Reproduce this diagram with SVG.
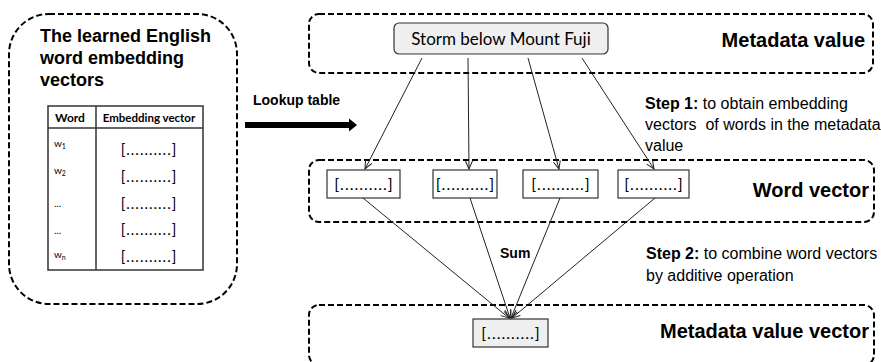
<svg xmlns="http://www.w3.org/2000/svg" width="881" height="362" viewBox="0 0 881 362">
<style>
.dash{fill:none;stroke:#000;stroke-width:2;stroke-dasharray:6 3}
.lbl{font-family:"Liberation Sans",Arial,sans-serif;font-weight:bold;fill:#000}
.txt{font-family:"Liberation Sans",Arial,sans-serif;font-size:16px;fill:#000}
.cal{font-family:Lato,"Noto Sans",sans-serif;fill:#000}
.br{letter-spacing:1px}
.vbox{fill:#fff;stroke:#333;stroke-width:1.2}
.gbox{fill:#efefef;stroke:#333;stroke-width:1.2}
.conn{stroke:#222;stroke-width:1;fill:none}
</style>
<defs>
<marker id="ah" markerUnits="userSpaceOnUse" markerWidth="12" markerHeight="10" refX="9" refY="4" orient="auto">
<path d="M1,0.5 L9,4 L1,7.5" fill="none" stroke="#222" stroke-width="1"/>
</marker>
</defs>
<rect width="881" height="362" fill="#fff"/>

<g id="embedding-vectors">
<rect class="dash" x="9" y="14" width="228" height="290" rx="40" ry="40"/>
<text class="lbl" font-size="18"><tspan x="40" y="42">The learned English</tspan><tspan x="40" y="64">word embedding</tspan><tspan x="40" y="86">vectors</tspan></text>
<g id="table">
<rect x="48" y="106" width="155" height="164" fill="#fff" stroke="#333" stroke-width="1.5"/>
<line x1="48" y1="128" x2="203" y2="128" stroke="#333" stroke-width="1.5"/>
<line x1="96" y1="106" x2="96" y2="270" stroke="#333" stroke-width="1.5"/>
<text class="cal" font-size="12" font-weight="bold" x="55" y="122">Word</text>
<text class="cal" font-size="11.5" font-weight="bold" x="149" y="122" text-anchor="middle">Embedding vector</text>
<g class="cal" font-size="10" fill="#333">
<text x="54" y="147">w<tspan font-size="7" dy="2">1</tspan></text>
<text x="54" y="174">w<tspan font-size="7" dy="2">2</tspan></text>
<text x="54" y="207">...</text>
<text x="54" y="234">...</text>
<text x="54" y="258">w<tspan font-size="7" dy="2">n</tspan></text>
</g>
<g class="cal br" font-size="15" text-anchor="middle" fill="#333">
<text x="149" y="155">[..........]</text>
<text x="149" y="182">[..........]</text>
<text x="149" y="209">[..........]</text>
<text x="149" y="235">[..........]</text>
<text x="149" y="262">[..........]</text>
</g>
</g>
</g>

<g id="lookup-arrow">
<text class="lbl" font-size="14" x="253" y="105">Lookup table</text>
<polygon points="245,122 349,122 349,118.5 357,125 349,131.5 349,128 245,128" fill="#000"/>
</g>

<g id="metadata-value">
<rect class="dash" x="309" y="14" width="564" height="59" rx="10" ry="10"/>
<text class="lbl" font-size="20" x="865" y="47" text-anchor="end">Metadata value</text>
<rect class="gbox" x="394" y="23" width="214" height="31" rx="5" ry="5" stroke-width="1.5" stroke="#000"/>
<text class="cal" font-size="17" x="501" y="45" text-anchor="middle">Storm below Mount Fuji</text>
</g>

<g id="step1">
<text class="txt" xml:space="preserve"><tspan x="645" y="109"><tspan font-weight="bold">Step 1:</tspan> to obtain embedding</tspan><tspan x="645" y="130">vectors  of words in the metadata</tspan><tspan x="645" y="151">value</tspan></text>
</g>

<g id="word-vector">
<rect class="dash" x="309" y="160" width="565" height="62" rx="10" ry="10"/>
<text class="lbl" font-size="20" x="869" y="197" text-anchor="end">Word vector</text>
<g id="wv1"><rect class="vbox" x="327" y="170" width="73" height="28"/><text class="cal br" font-size="16" x="364" y="190" text-anchor="middle">[..........]</text></g>
<g id="wv2"><rect class="vbox" x="433" y="170" width="64" height="28"/><text class="cal br" font-size="16" x="465.5" y="190" text-anchor="middle">[..........]</text></g>
<g id="wv3"><rect class="vbox" x="523" y="170" width="75" height="28"/><text class="cal br" font-size="16" x="561" y="190" text-anchor="middle">[..........]</text></g>
<g id="wv4"><rect class="vbox" x="618" y="170" width="71" height="28"/><text class="cal br" font-size="16" x="654" y="190" text-anchor="middle">[..........]</text></g>
</g>

<g id="step2">
<text class="lbl" font-size="14" x="500" y="258">Sum</text>
<text class="txt"><tspan x="646" y="259"><tspan font-weight="bold">Step 2:</tspan> to combine word vectors</tspan><tspan x="646" y="281">by additive operation</tspan></text>
</g>

<g id="metadata-value-vector">
<rect class="dash" x="309" y="305" width="565" height="60" rx="10" ry="10"/>
<text class="lbl" font-size="20" x="869" y="338" text-anchor="end">Metadata value vector</text>
<rect class="gbox" x="473" y="319" width="75" height="28"/>
<text class="cal br" font-size="16" x="511" y="339" text-anchor="middle">[..........]</text>
</g>

<g id="connectors">
<line class="conn" x1="422" y1="58" x2="365" y2="169" marker-end="url(#ah)"/>
<line class="conn" x1="468" y1="58" x2="469" y2="169" marker-end="url(#ah)"/>
<line class="conn" x1="528" y1="58" x2="559" y2="169" marker-end="url(#ah)"/>
<line class="conn" x1="582" y1="58" x2="654" y2="169" marker-end="url(#ah)"/>
<line class="conn" x1="363" y1="198" x2="509" y2="318" marker-end="url(#ah)"/>
<line class="conn" x1="470" y1="198" x2="510" y2="318" marker-end="url(#ah)"/>
<line class="conn" x1="560" y1="198" x2="511" y2="318" marker-end="url(#ah)"/>
<line class="conn" x1="655" y1="198" x2="512" y2="318" marker-end="url(#ah)"/>
</g>
</svg>
